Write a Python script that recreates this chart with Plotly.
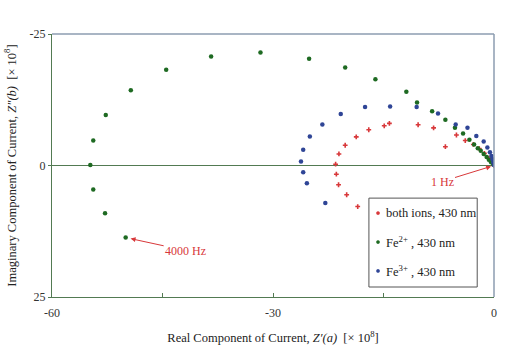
import plotly.graph_objects as go

# ---- data ----
both_x = [-18.5, -20.0, -21.1, -21.4, -21.5, -21.05, -20.2, -18.7, -17.0, -14.9, -14.2,
          -10.3, -8.2, -6.6, -5.1, -3.9, -2.8, -2.0, -1.3, -0.7, -0.3, 0.0]
both_y = [7.8, 5.56, 3.66, 1.65, -0.25, -2.2, -3.85, -5.45, -6.8, -7.55, -8.0,
          -7.75, -7.15, -3.57, -5.8, -4.74, -4.0, -3.2, -2.3, -1.4, -0.7, 0.0]

fe2_x = [-50.0, -52.8, -54.4, -54.8, -54.4, -52.7, -49.3, -44.5, -38.4, -31.7, -25.1,
         -20.2, -16.1, -11.9, -10.45, -8.4, -6.6, -5.3, -4.2, -3.34, -2.7, -2.2,
         -1.8, -1.4, -1.0, -0.7, -0.4, -0.1]
fe2_y = [13.7, 9.1, 4.55, -0.1, -4.74, -9.62, -14.3, -18.2, -20.7, -21.5, -20.3,
         -18.65, -16.4, -14.0, -12.0, -10.3, -8.7, -7.2, -6.1, -4.9, -4.0, -3.3,
         -2.8, -2.2, -1.6, -1.1, -0.6, -0.2]

fe3_x = [-22.9, -25.4, -25.9, -26.2, -25.9, -25.0, -23.3, -20.8, -17.5, -14.1, -10.5,
         -7.6, -5.2, -3.6, -2.4, -1.4, -0.9, -0.55, -0.35, -0.2, -0.1, 0.0]
fe3_y = [7.15, 3.36, 1.27, -0.76, -2.98, -5.5, -7.8, -9.8, -11.1, -11.2, -11.1,
         -9.9, -7.8, -7.2, -5.6, -4.55, -3.4, -2.5, -1.8, -1.2, -0.6, -0.1]

x_ticks = [-60, -30, 0]
y_ticks = [-25, 0, 25]
series_names = ["both ions, 430 nm", "Fe<sup>2+</sup> , 430 nm", "Fe<sup>3+</sup> , 430 nm"]
series_colors = ["#d8383a", "#1e6a22", "#2f4596"]

FONT = "Liberation Serif"
GREEN_AX = "#527a52"
GREY_AX = "#8c9db0"

fig = go.Figure()
fig.add_trace(go.Scatter(x=both_x, y=both_y, mode="markers", name=series_names[0],
                         marker=dict(symbol="cross", size=4, color=series_colors[0])))
fig.add_trace(go.Scatter(x=fe2_x, y=fe2_y, mode="markers", name=series_names[1],
                         marker=dict(symbol="circle", size=4.5, color=series_colors[1])))
fig.add_trace(go.Scatter(x=fe3_x, y=fe3_y, mode="markers", name=series_names[2],
                         marker=dict(symbol="circle", size=4.5, color=series_colors[2])))

fig.add_annotation(x=-50.0, y=13.7, text="4000 Hz", showarrow=True, ax=60, ay=13,
                   arrowhead=2, arrowsize=1, arrowwidth=1, arrowcolor="#d8383a",
                   standoff=5, font=dict(family=FONT, size=12, color="#d8383a"))
fig.add_annotation(x=0, y=0, text="1 Hz", showarrow=True, ax=-52, ay=16,
                   arrowhead=2, arrowsize=1, arrowwidth=1, arrowcolor="#d8383a",
                   standoff=3, font=dict(family=FONT, size=12, color="#d8383a"))

# top and right frame lines
fig.add_shape(type="line", xref="paper", yref="paper", x0=0, x1=1, y0=1, y1=1,
              line=dict(color=GREY_AX, width=1.5))
fig.add_shape(type="line", xref="paper", yref="paper", x0=1, x1=1, y0=0, y1=1,
              line=dict(color=GREY_AX, width=1.5))

# custom legend box
fig.add_shape(type="rect", xref="paper", yref="paper", x0=0.717, x1=0.962,
              y0=0.038, y1=0.376, line=dict(color="#555555", width=1),
              fillcolor="white", layer="above")
leg_y = [0.319, 0.209, 0.099]
for name, col, yy in zip(series_names, series_colors, leg_y):
    fig.add_shape(type="circle", xref="paper", yref="paper",
                  xsizemode="pixel", ysizemode="pixel", xanchor=0.7376, yanchor=yy,
                  x0=-1.6, x1=1.6, y0=-1.6, y1=1.6,
                  line=dict(color=col, width=0.5), fillcolor=col, layer="above")
    fig.add_annotation(xref="paper", yref="paper", x=0.751, y=yy, text=name,
                       showarrow=False, xanchor="left", yanchor="middle",
                       font=dict(family=FONT, size=12.5, color="#222222"))

fig.update_layout(
    width=523, height=358,
    margin=dict(l=52, r=29, t=34, b=61),
    paper_bgcolor="white", plot_bgcolor="white",
    font=dict(family=FONT, size=12, color="#333333"),
    showlegend=False,
    xaxis=dict(range=[-60, 0], tickvals=x_ticks, ticktext=[str(v) for v in x_ticks],
               showgrid=False, zeroline=False, showline=True, linecolor=GREEN_AX,
               linewidth=1.2, ticks="inside", ticklen=4, tickcolor=GREEN_AX,
               minor=dict(tickvals=[-45, -15], ticks="inside", ticklen=4,
                          tickcolor=GREEN_AX),
               ticklabelstandoff=4,
               tickfont=dict(family=FONT, size=12, color="#333333"),
               title=dict(text="Real Component of Current, <i>Z′(a)</i>  [× 10<sup>8</sup>]",
                          standoff=14,
                          font=dict(family=FONT, size=12.5, color="#222222"))),
    yaxis=dict(range=[25, -25], tickvals=y_ticks, ticktext=[str(v) for v in y_ticks],
               showgrid=False, zeroline=True, zerolinecolor=GREEN_AX, zerolinewidth=1.2,
               showline=True, linecolor=GREEN_AX, linewidth=1.2,
               ticks="outside", ticklen=3, tickcolor=GREEN_AX,
               tickfont=dict(family=FONT, size=12, color="#333333"),
               title=dict(text="Imaginary Component of Current, <i>Z″(b)</i>  [× 10<sup>8</sup>]",
                          standoff=10,
                          font=dict(family=FONT, size=12.5, color="#222222"))),
)

fig.write_html("out.html")
